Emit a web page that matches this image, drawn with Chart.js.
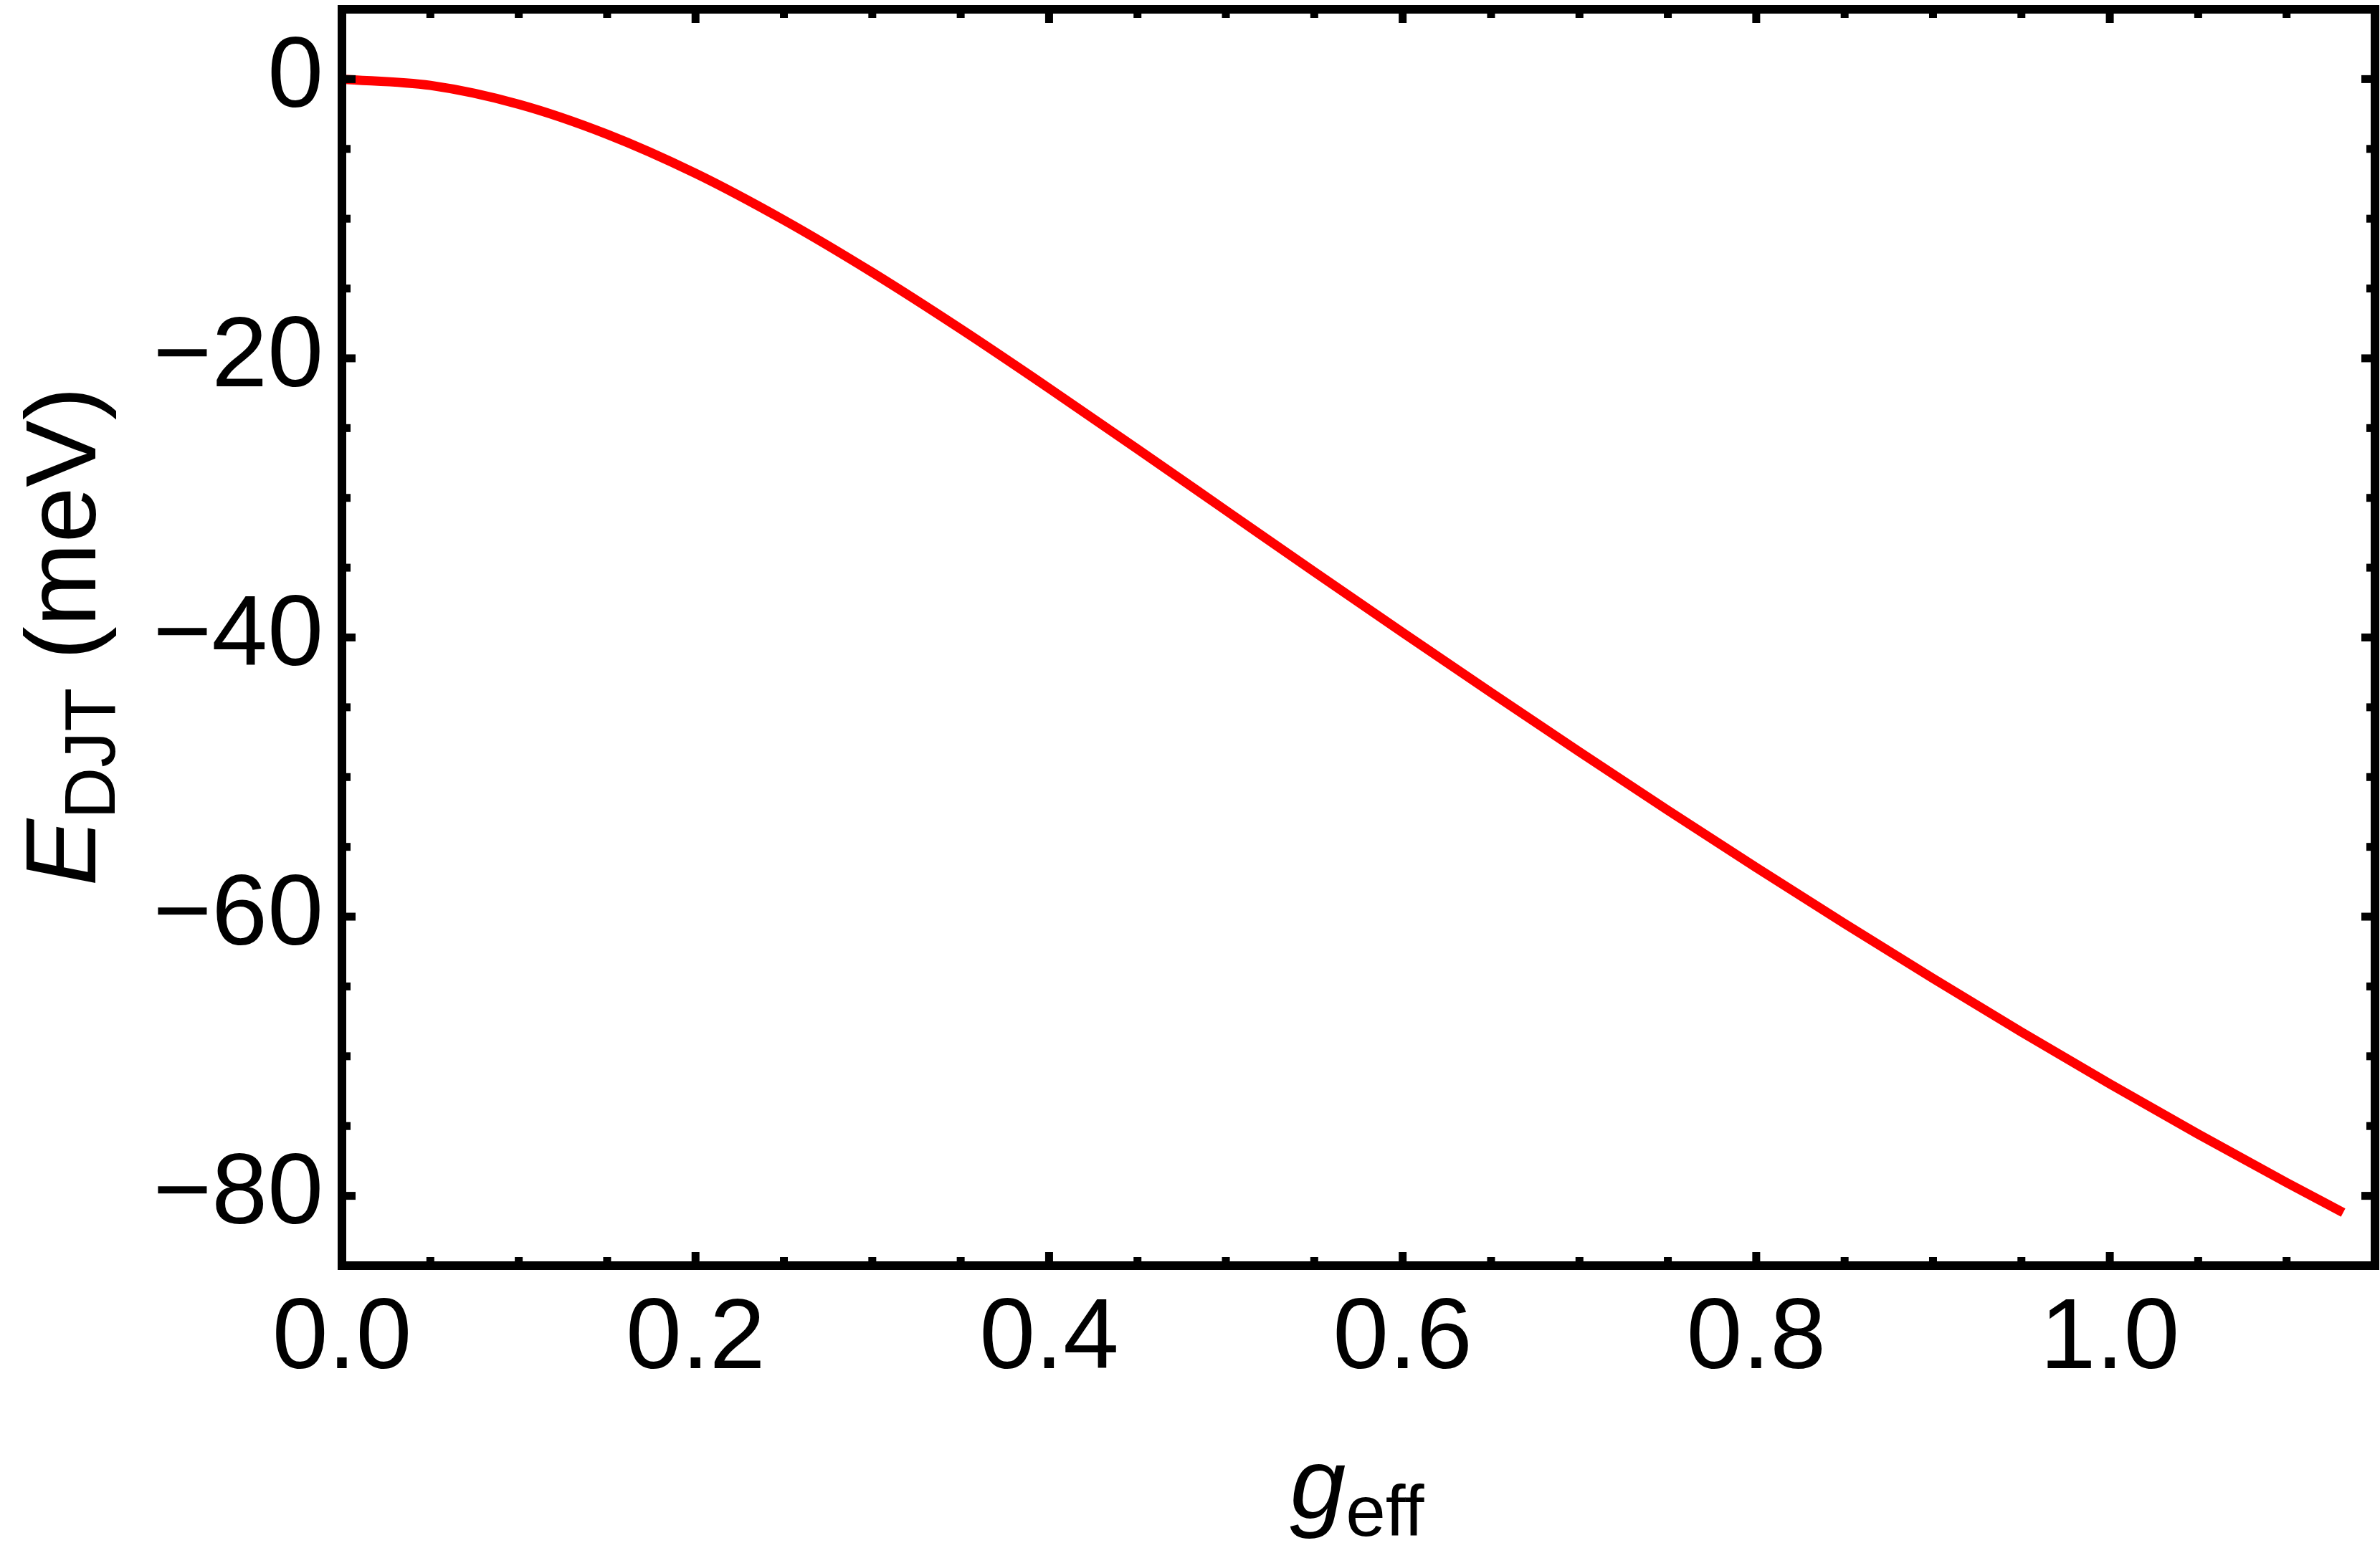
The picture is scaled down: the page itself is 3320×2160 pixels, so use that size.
<!DOCTYPE html>
<html>
<head>
<meta charset="utf-8">
<script src="https://cdn.jsdelivr.net/npm/chart.js@4/dist/chart.umd.min.js"></script>
<style>
html,body{margin:0;padding:0;background:#fff;}
#c{display:block;}
</style>
</head>
<body>
<canvas id="c" width="3320" height="2160"></canvas>
<script>
// Data
const gValues = [0, 0.05, 0.1, 0.15, 0.2, 0.25, 0.3, 0.35, 0.4, 0.45, 0.5, 0.55, 0.6,
                 0.65, 0.7, 0.75, 0.8, 0.85, 0.9, 0.95, 1.0, 1.05, 1.1, 1.132];
const eValues = [0, -0.45, -1.8, -3.95, -6.75, -10.1, -13.85, -17.9, -22.15, -26.5, -30.9, -35.3, -39.65,
                 -43.95, -48.2, -52.38, -56.48, -60.5, -64.43, -68.26, -71.98, -75.58, -79.05, -81.2];
const xTicks = [0, 0.2, 0.4, 0.6, 0.8, 1.0];
const yTicks = [0, -20, -40, -60, -80];
const xMinorStep = 0.05;
const yMinorStep = 5;

const FONT = '"Liberation Sans", Arial, Helvetica, sans-serif';

const framePlugin = {
  id: 'frame',
  afterDatasetsDraw(chart) {
    const ctx = chart.ctx;
    const a = chart.chartArea;
    const xs = chart.scales.x, ys = chart.scales.y;
    ctx.save();
    ctx.fillStyle = '#000';
    const tw = 11, fw = 12;
    const inL = a.left + fw/2, inR = a.right - fw/2, inT = a.top + fw/2, inB = a.bottom - fw/2;
    for (let v = 0; v <= xs.max + 1e-9; v += xMinorStep) {
      const major = xTicks.some(t => Math.abs(t - v) < 1e-6);
      const len = major ? 13 : 6;
      const px = xs.getPixelForValue(v);
      if (px < inL || px > inR) continue;
      ctx.fillRect(px - tw/2, inB - len, tw, len);
      ctx.fillRect(px - tw/2, inT, tw, len);
    }
    for (let v = Math.ceil(ys.min / yMinorStep) * yMinorStep; v <= ys.max + 1e-9; v += yMinorStep) {
      const major = yTicks.some(t => Math.abs(t - v) < 1e-6);
      const len = major ? 13 : 6;
      const py = ys.getPixelForValue(v);
      if (py < inT || py > inB) continue;
      ctx.fillRect(inL, py - tw/2, len, tw);
      ctx.fillRect(inR - len, py - tw/2, len, tw);
    }
    ctx.strokeStyle = '#000';
    ctx.lineWidth = fw;
    ctx.lineJoin = 'miter';
    ctx.strokeRect(a.left, a.top, a.right - a.left, a.bottom - a.top);

    ctx.fillStyle = '#000';
    ctx.textBaseline = 'alphabetic';
    ctx.save();
    ctx.translate(133, 888);
    ctx.rotate(-Math.PI / 2);
    const fMainI = 'italic 140px ' + FONT, fMain = '140px ' + FONT, fSub = '100px ' + FONT;
    ctx.font = fMainI; const wE = ctx.measureText('E').width;
    ctx.font = fSub; const wD = ctx.measureText('DJT').width;
    ctx.font = fMain; const wU = ctx.measureText(' (meV)').width;
    let x0 = -(wE + wD + wU) / 2;
    ctx.textAlign = 'left';
    ctx.font = fMainI; ctx.fillText('E', x0, 0); x0 += wE;
    ctx.font = fSub; ctx.fillText('DJT', x0, 27); x0 += wD;
    ctx.font = fMain; ctx.fillText(' (meV)', x0, 0);
    ctx.restore();
    ctx.font = fMainI; const wg = ctx.measureText('g').width;
    ctx.font = fSub; const we = ctx.measureText('eff').width;
    let gx = 1893 - (wg + we) / 2;
    ctx.textAlign = 'left';
    ctx.font = fMainI; ctx.fillText('g', gx, 2118); gx += wg;
    ctx.font = fSub; ctx.fillText('eff', gx, 2143);
    ctx.restore();
  }
};

new Chart(document.getElementById('c'), {
  type: 'line',
  data: {
    datasets: [{
      data: gValues.map((g, i) => ({ x: g, y: eValues[i] })),
      borderColor: '#ff0000',
      borderWidth: 13,
      pointRadius: 0,
      fill: false,
      cubicInterpolationMode: 'monotone',
      borderCapStyle: 'butt'
    }]
  },
  options: {
    responsive: false,
    animation: false,
    devicePixelRatio: 1,
    layout: { padding: { top: 13, right: 7, left: 0, bottom: 0 } },
    plugins: { legend: { display: false }, tooltip: { enabled: false } },
    scales: {
      x: {
        type: 'linear',
        min: 0, max: 1.15,
        afterFit(s) { s.height = 2160 - 1766; s.paddingLeft = 0; s.paddingRight = 0; },
        afterBuildTicks(s) { s.ticks = xTicks.map(v => ({ value: v })); },
        grid: { display: false, drawTicks: false },
        border: { display: false },
        ticks: {
          color: '#000',
          font: { family: FONT, size: 140 },
          padding: 20,
          maxRotation: 0,
          autoSkip: false,
          callback: v => Number(v).toFixed(1)
        }
      },
      y: {
        type: 'linear',
        min: -85, max: 5,
        afterFit(s) { s.width = 477; s.paddingTop = 0; s.paddingBottom = 0; },
        afterBuildTicks(s) { s.ticks = yTicks.map(v => ({ value: v })); },
        grid: { display: false, drawTicks: false },
        border: { display: false },
        ticks: {
          color: '#000',
          font: { family: FONT, size: 140 },
          padding: 26,
          autoSkip: false,
          callback: v => (v < 0 ? '\u2212' + Math.abs(v) : String(v))
        }
      }
    }
  },
  plugins: [framePlugin]
});
</script>
</body>
</html>
